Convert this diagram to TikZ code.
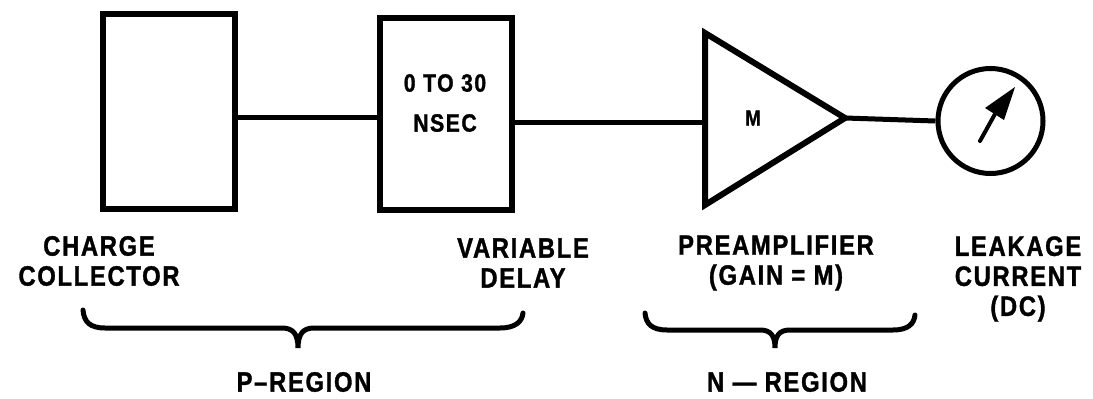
\documentclass[tikz,border=0pt]{standalone}
\usepackage{fontspec}
\newfontfamily\lbl{Liberation Sans Bold}[FakeStretch=0.85,LetterSpace=6,FakeBold=1.2]
\begin{document}
\begin{tikzpicture}[x=1pt,y=-1pt,
  blk/.style={draw,line width=6pt,minimum width=132pt,inner sep=0pt},
  wire/.style={line width=5pt},
  brace/.style={line width=5pt,line cap=round},
  lab/.style={font=\lbl\fontsize{28}{30}\selectfont,align=center,inner sep=0pt},
  intext/.style={font=\lbl\fontsize{25}{40}\selectfont,align=center,inner sep=0pt}]
\useasboundingbox (0,0) rectangle (1093,399);
% blocks
\node[blk,minimum height=195pt] (coll) at (169,111.5) {};
\node[blk,minimum height=192pt] (delay) at (446,114) {};
\node[intext] (dtxt) at (445,103) {0 TO 30\\NSEC};
% amplifier triangle
\coordinate (triL) at (702,118);
\coordinate (triT) at (705,33);
\coordinate (triB) at (705,205);
\coordinate (triA) at (845,118);
\draw[line width=6pt,line join=miter] (triT) -- (triA) -- (triB) -- cycle;
\node[font=\lbl\fontsize{22}{24}\selectfont,inner sep=0pt] (gain) at (753,118) {M};
% meter
\node[draw,circle,line width=5pt,minimum size=105pt,inner sep=0pt] (meter) at (990.5,121) {};
\coordinate (ntail) at (980,141);
\coordinate (nbase) at (995,114);
\coordinate (ntip) at (1015,87);
\draw[line width=4pt,line cap=round] (ntail) -- (nbase);
\fill (ntip) -- (985,108) -- (1004,120) -- cycle;
% wires
\coordinate (yA) at (0,117);
\coordinate (yB) at (0,122);
\draw[wire] (coll.east |- yA) -- (delay.west |- yA);
\draw[wire] (delay.east |- yB) -- (triL |- yB);
\draw[wire] (triA) -- (meter.west);
% labels
\node[lab] (lcoll) at (99,261) {CHARGE\\COLLECTOR};
\node[lab] (ldelay) at (523,263) {VARIABLE\\DELAY};
\node[lab] (lamp) at (776,263) {PREAMPLIFIER\\(GAIN = M)};
\node[lab] (lmeter) at (1018,279) {LEAKAGE\\CURRENT\\(DC)};
% braces
\draw[brace] (83,310) .. controls (84,322) and (90,328) .. (105,328) -- (282,328)
  .. controls (293,328) and (298,334) .. (298,348)
  .. controls (298,334) and (303,328) .. (314,328) -- (500,328)
  .. controls (515,328) and (522,322) .. (523,313);
\draw[brace] (645,313) .. controls (646,324) and (652,330) .. (667,330) -- (760,330)
  .. controls (771,330) and (775,336) .. (775,348)
  .. controls (775,336) and (779,330) .. (790,330) -- (893,330)
  .. controls (908,330) and (914,324) .. (915,315);
\node[lab] (preg) at (304,382) {P\textendash REGION};
\node[lab] (nreg) at (787,382) {N \textemdash{} REGION};
\end{tikzpicture}
\end{document}
